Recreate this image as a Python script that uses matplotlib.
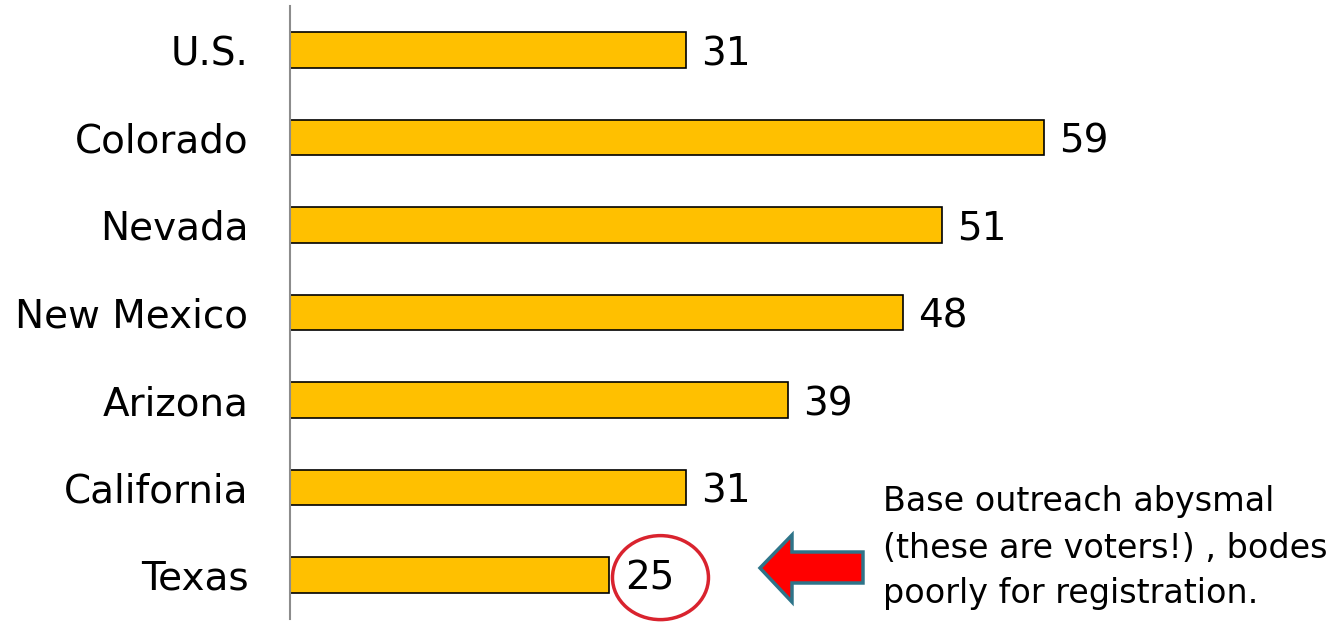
import matplotlib.pyplot as plt
from matplotlib.patches import Ellipse, Polygon

plt.rcParams['font.family'] = ['DejaVu Sans']

# donnees
regions = ["U.S.", "Colorado", "Nevada", "New Mexico", "Arizona", "California", "Texas"]
valeurs = [31, 59, 51, 48, 39, 31, 25]
note = "Base outreach abysmal\n(these are voters!) , bodes\npoorly for registration."

W, H = 1337, 622
fig = plt.figure(figsize=(W / 100, H / 100), dpi=100)
ax = fig.add_axes([290 / W, 3.25 / H, 1022 / W, 612.5 / H])

n = len(regions)
y = [n - 1 - i for i in range(n)]
ax.barh(y, valeurs, height=0.41, color="#FFC000", edgecolor="black", linewidth=1.2)

for yi, v in zip(y, valeurs):
    ax.text(v + 1.2, yi, str(v), va="center_baseline", ha="left", fontsize=28)

ax.set_yticks(y)
ax.set_yticklabels(regions, fontsize=28)
ax.tick_params(axis="y", length=0, pad=30)
ax.set_xticks([])
ax.set_xlim(0, 80)
ax.set_ylim(-0.5, n - 0.5)
for s in ["top", "right", "bottom"]:
    ax.spines[s].set_visible(False)
ax.spines["left"].set_color("#8c8c8c")
ax.spines["left"].set_linewidth(1.5)

# cercle rouge autour de la valeur du Texas
ax.add_patch(Ellipse((valeurs[-1] + 4.0, 0 - 0.03), width=96 / 12.775, height=84 / 87.5,
                     fill=False, edgecolor="#d9232e", linewidth=2.5, clip_on=False))

# fleche rouge (coordonnees figure en pixels)
pts = [(760, 568), (792, 535), (792, 552), (863, 552), (863, 583), (792, 583), (792, 602)]
fleche = Polygon([(px / W, 1 - py / H) for px, py in pts], closed=True,
                 facecolor="#ff0000", edgecolor="#2e7489", linewidth=2.5,
                 transform=fig.transFigure)
fig.patches.append(fleche)

fig.text(883 / W, 1 - 548 / H, note, fontsize=24, va="center", ha="left",
         linespacing=1.5)

fig.savefig("out.png", dpi=100)
